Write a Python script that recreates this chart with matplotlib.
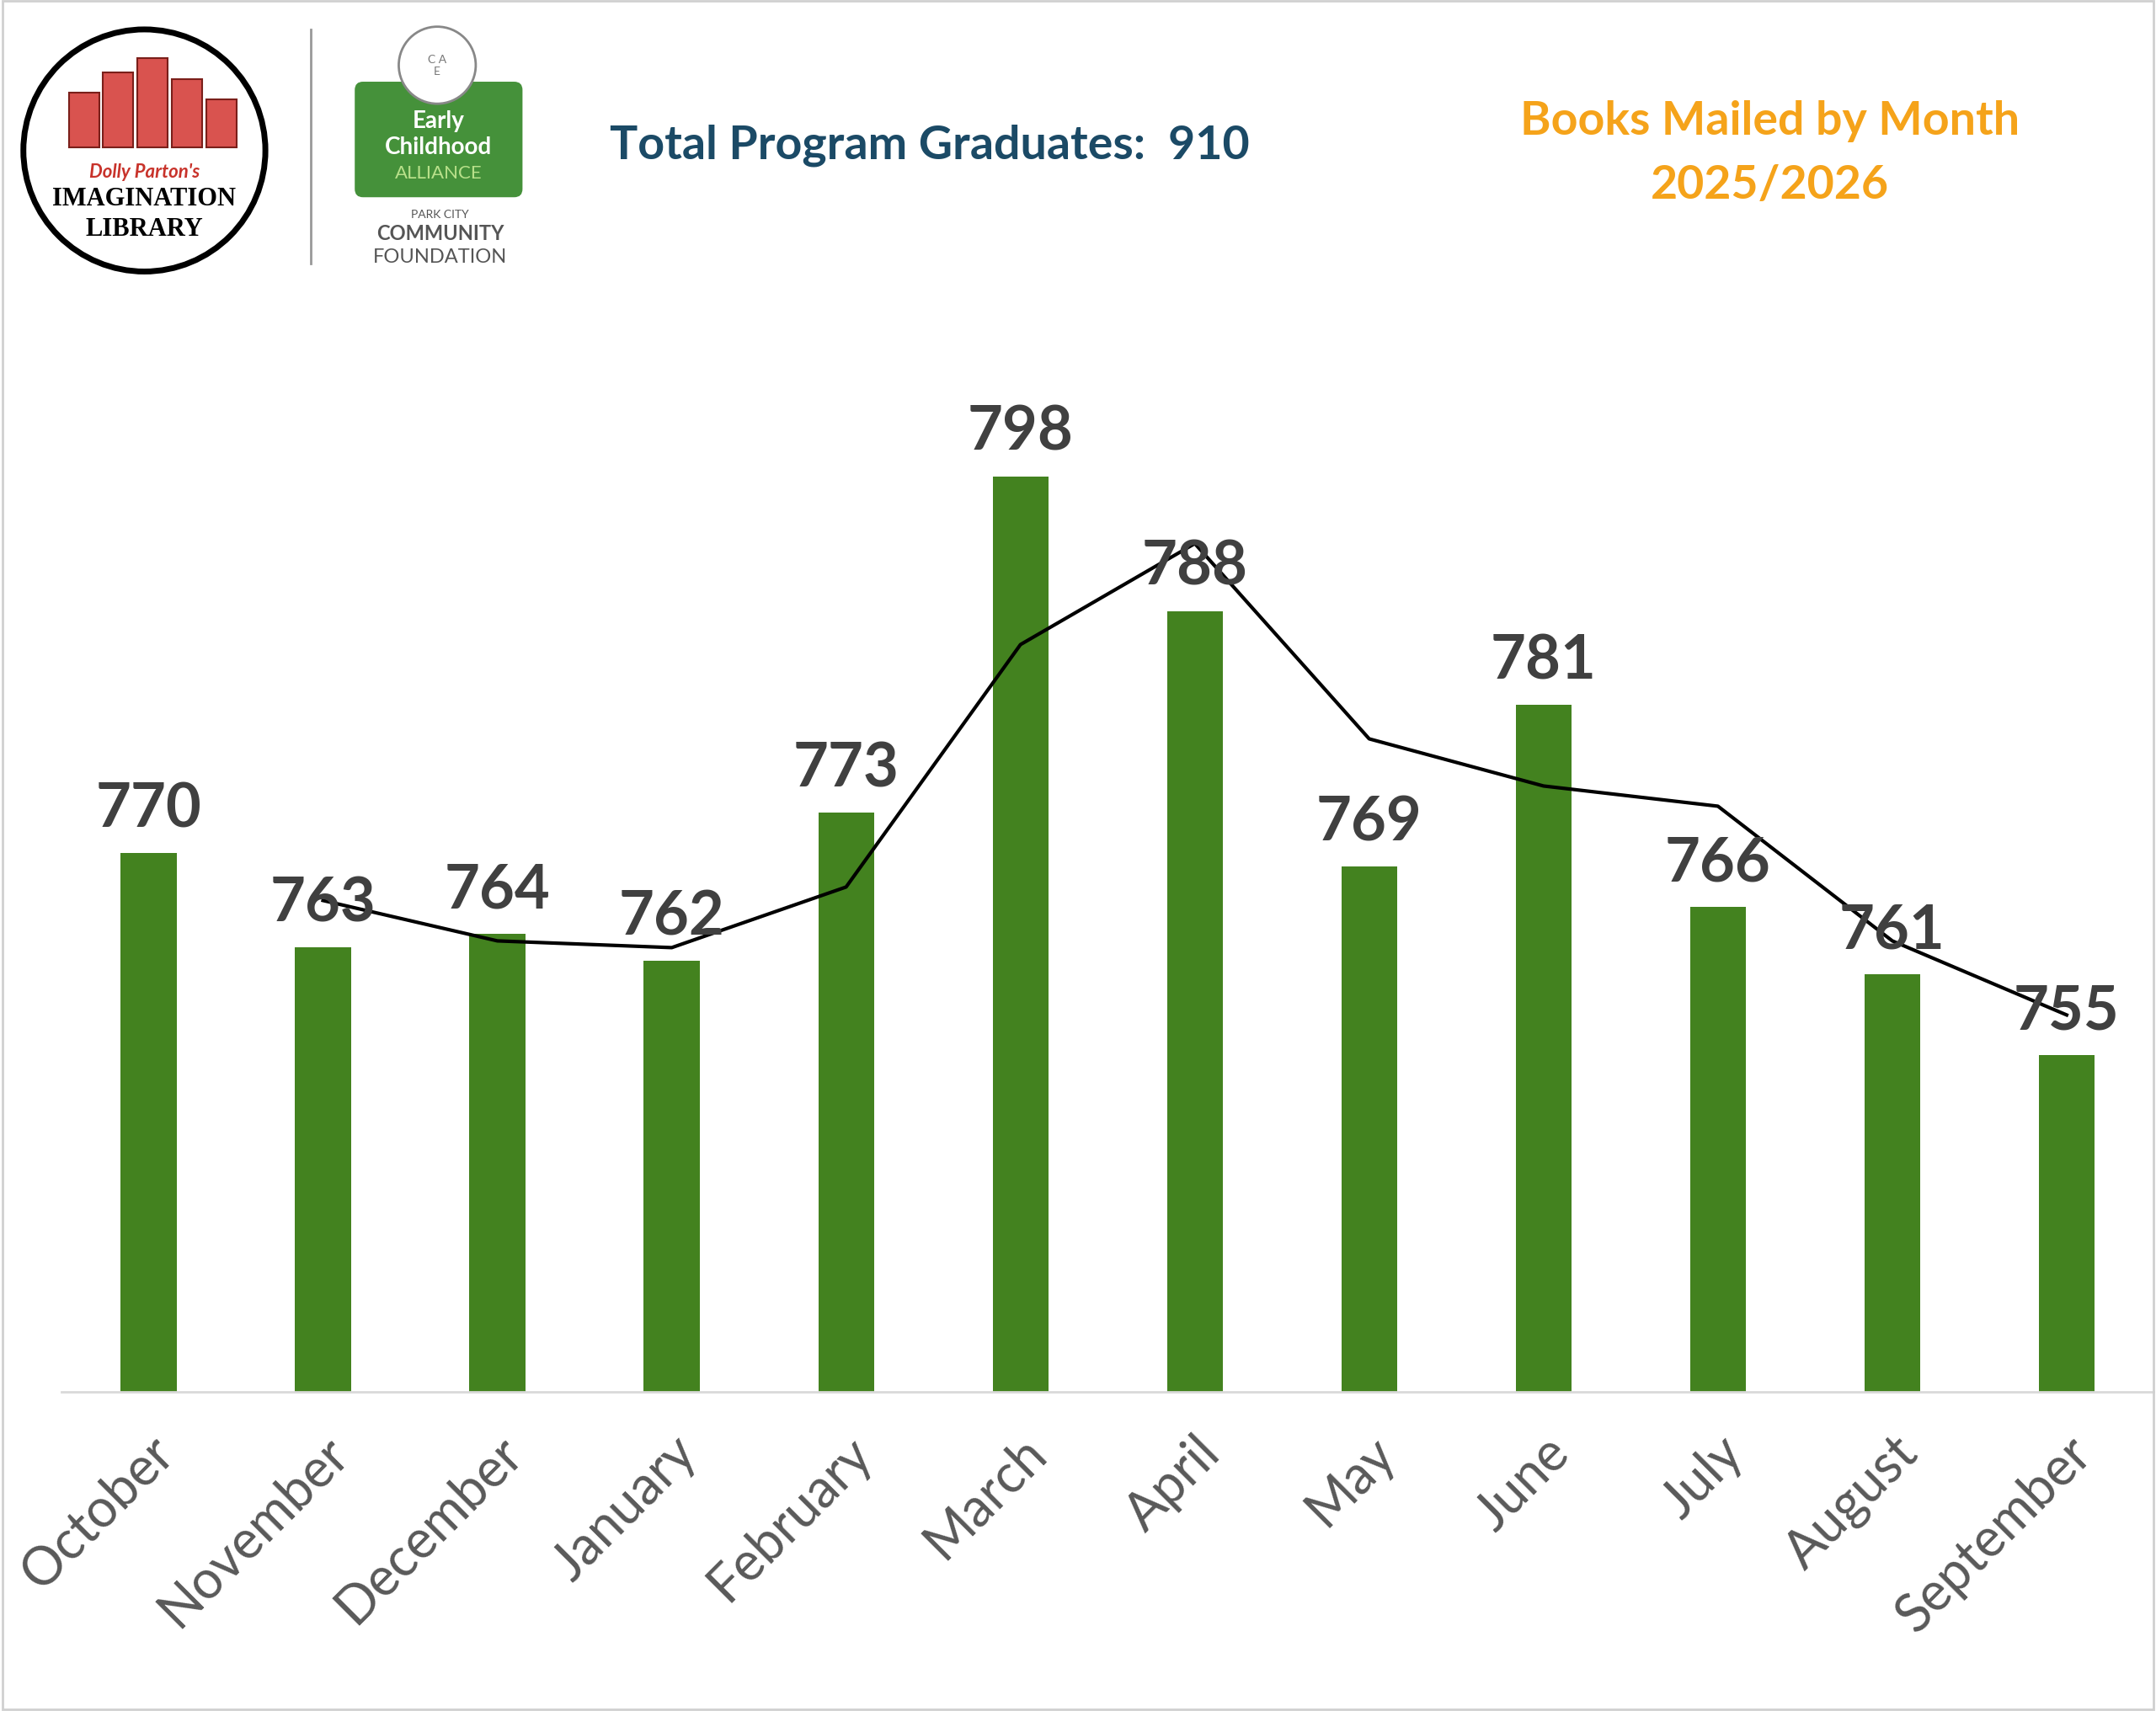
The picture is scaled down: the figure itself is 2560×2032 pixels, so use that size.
import matplotlib.pyplot as plt
from matplotlib.patches import Circle, FancyBboxPatch, Rectangle

months = ["October", "November", "December", "January", "February", "March",
          "April", "May", "June", "July", "August", "September"]
books = [770, 763, 764, 762, 773, 798, 788, 769, 781, 766, 761, 755]
# 2-period moving average trendline, starting at November
trend = [766.5, 763.5, 763, 767.5, 785.5, 793, 778.5, 775, 773.5, 763.5, 758]

plt.rcParams['font.family'] = ['Lato', 'DejaVu Sans']

fig = plt.figure(figsize=(25.6, 20.33), dpi=100)
fig.patches.append(Rectangle((0.001, 0.001), 0.998, 0.998, transform=fig.transFigure,
                             fill=False, edgecolor='#d0d0d0', linewidth=2))

ax = fig.add_axes([0.0285, 0.1863, 0.9705, 0.6137])
x = range(len(months))
ax.bar(x, books, width=0.32, color='#43821f', zorder=2)
ax.plot(range(1, len(months)), trend, color='black', linewidth=3, zorder=3)
ax.set_ylim(730, 808)
ax.set_xlim(-0.5, len(months) - 0.5)
for i, v in enumerate(books):
    ax.text(i, v + 1.2, str(v), ha='center', va='bottom', fontsize=52,
            fontweight='bold', color='#404040', zorder=4)
ax.set_xticks(list(x))
ax.set_xticklabels(months, rotation=45, ha='right', rotation_mode='anchor',
                   fontsize=45, color='#595959')
ax.tick_params(axis='x', length=0, pad=30)
ax.set_yticks([])
for s in ['top', 'right', 'left']:
    ax.spines[s].set_visible(False)
ax.spines['bottom'].set_color('#d9d9d9')
ax.spines['bottom'].set_linewidth(2)

# titles
fig.text(0.283, 0.915, "Total Program Graduates:  910", fontsize=40, fontweight='bold',
         color='#1b4a66', ha='left', va='center')
fig.text(0.821, 0.929, "Books Mailed by Month", fontsize=40, fontweight='bold',
         color='#f5a31a', ha='center', va='center')
fig.text(0.821, 0.892, "2025/2026", fontsize=40, fontweight='bold',
         color='#f5a31a', ha='center', va='center')

# logo approximations
lax = fig.add_axes([0, 0.82, 1, 0.18])
lax.set_xlim(0, 1568)
lax.set_ylim(224, 0)
lax.axis('off')
lax.add_patch(Circle((105, 110), 88, facecolor='white', edgecolor='black', linewidth=5))
for bx, bh in [(50, 40), (75, 55), (100, 65), (125, 50), (150, 35)]:
    lax.add_patch(Rectangle((bx, 108 - bh), 22, bh, facecolor='#d9534f',
                            edgecolor='#7a1f1a', linewidth=1.5))
lax.text(105, 125, "Dolly Parton's", ha='center', va='center', fontsize=16,
         color='#c8332b', fontstyle='italic', fontweight='bold')
lax.text(105, 145, "IMAGINATION", ha='center', va='center', fontsize=22,
         color='black', family=['Liberation Serif'], fontweight='bold')
lax.text(105, 167, "LIBRARY", ha='center', va='center', fontsize=22,
         color='black', family=['Liberation Serif'], fontweight='bold')
lax.plot([226, 226], [22, 192], color='#999999', linewidth=2)
lax.add_patch(Circle((318, 48), 28, facecolor='white', edgecolor='#888888', linewidth=2, zorder=3))
lax.text(318, 48, "C A\nE", ha='center', va='center', fontsize=10, color='#777777', zorder=4)
lax.add_patch(FancyBboxPatch((260, 62), 118, 80, boxstyle='round,pad=2,rounding_size=6',
                             facecolor='#45913a', edgecolor='none'))
lax.text(319, 88, "Early", ha='center', va='center', fontsize=20, color='white', fontweight='bold')
lax.text(319, 107, "Childhood", ha='center', va='center', fontsize=20, color='white', fontweight='bold')
lax.text(319, 126, "ALLIANCE", ha='center', va='center', fontsize=16, color='#b8e08a')
lax.text(320, 156, "PARK CITY", ha='center', va='center', fontsize=10, color='#555555')
lax.text(320, 170, "COMMUNITY", ha='center', va='center', fontsize=17, color='#555555', fontweight='bold')
lax.text(320, 187, "FOUNDATION", ha='center', va='center', fontsize=17, color='#555555')

fig.savefig("out.png", dpi=100)
